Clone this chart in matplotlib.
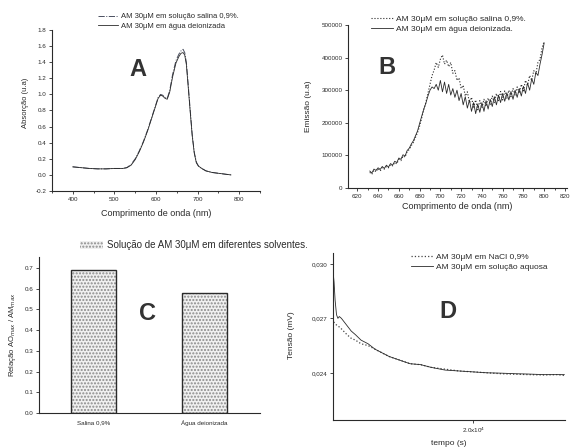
import numpy as np
import matplotlib
matplotlib.use("Agg")
import matplotlib.pyplot as plt

plt.rcParams['font.family'] = ['Liberation Sans', 'DejaVu Sans']
plt.rcParams['axes.linewidth'] = 0.8

INK = '#2a2a2a'

# --- A: absorption spectra
wl_a = [400, 420, 440, 460, 480, 500, 520, 530, 540, 550, 560, 570, 580, 590,
        600, 605, 611, 616, 622, 627, 633, 640, 648, 655, 660, 665, 669, 673,
        677, 682, 687, 692, 697, 702, 710, 720, 735, 750, 765, 780]
abs_salina = [0.10, 0.09, 0.08, 0.075, 0.075, 0.08, 0.08, 0.09, 0.13, 0.20,
              0.30, 0.42, 0.56, 0.72, 0.88, 0.96, 1.00, 0.99, 0.96, 0.95,
              1.05, 1.25, 1.42, 1.50, 1.54, 1.56, 1.52, 1.40, 1.15, 0.82,
              0.50, 0.28, 0.16, 0.11, 0.08, 0.05, 0.03, 0.02, 0.01, 0.0]
abs_agua = [0.10, 0.09, 0.08, 0.075, 0.075, 0.08, 0.08, 0.09, 0.12, 0.19,
            0.29, 0.41, 0.55, 0.71, 0.87, 0.95, 0.99, 0.98, 0.95, 0.94,
            1.03, 1.22, 1.39, 1.47, 1.51, 1.52, 1.49, 1.37, 1.12, 0.80,
            0.49, 0.27, 0.15, 0.11, 0.08, 0.05, 0.03, 0.02, 0.01, 0.0]

# --- B: emission spectra (632..800 nm, 2 nm step)
wl_b = np.arange(632, 801, 2)
em_salina = [48000, 42000, 55000, 50000, 60000, 52000, 63000, 58000, 66000, 62000,
             72000, 68000, 78000, 74000, 88000, 84000, 98000, 95000, 112000, 118000,
             130000, 140000, 155000, 170000, 190000, 215000, 240000, 262000, 290000, 318000,
             345000, 362000, 385000, 370000, 395000, 408000, 380000, 392000, 372000, 385000,
             352000, 360000, 330000, 338000, 305000, 315000, 282000, 295000, 262000, 278000,
             248000, 270000, 240000, 268000, 245000, 272000, 250000, 276000, 255000, 282000,
             262000, 290000, 268000, 296000, 270000, 298000, 275000, 300000, 280000, 305000,
             285000, 310000, 290000, 318000, 298000, 330000, 315000, 345000, 330000, 360000,
             350000, 385000, 395000, 430000, 450000]
em_agua = [52000, 46000, 58000, 54000, 62000, 57000, 66000, 60000, 70000, 64000,
           75000, 70000, 82000, 78000, 92000, 88000, 102000, 98000, 115000, 122000,
           135000, 145000, 160000, 175000, 198000, 220000, 242000, 260000, 282000, 300000,
           310000, 305000, 318000, 300000, 330000, 295000, 325000, 290000, 318000, 285000,
           305000, 278000, 300000, 268000, 290000, 255000, 280000, 245000, 270000, 235000,
           262000, 228000, 258000, 232000, 262000, 235000, 268000, 242000, 272000, 250000,
           280000, 255000, 285000, 262000, 290000, 266000, 292000, 270000, 296000, 272000,
           300000, 278000, 305000, 282000, 312000, 290000, 322000, 300000, 335000, 318000,
           355000, 345000, 380000, 410000, 445000]

# --- C: ratio bars
solventes = ['Salina 0,9%', 'Água deionizada']
razao = [0.69, 0.58]

# --- D: voltage vs time
t_aq = [0, 150, 300, 500, 700, 900, 1200, 1600, 2000, 2600, 3200, 4000, 5000,
        6000, 7000, 8000, 9500, 11000, 12500, 14000, 16000, 18000, 20000,
        22000, 24000, 26000, 28000, 30000, 32000, 33000]
v_aq = [0.0296, 0.0290, 0.0280, 0.0272, 0.0270, 0.0271, 0.0270, 0.0268,
        0.0266, 0.0263, 0.0261, 0.0258, 0.0256, 0.0253, 0.0251, 0.0249,
        0.0247, 0.0245, 0.02445, 0.0243, 0.02415, 0.0241, 0.02405, 0.0240,
        0.02398, 0.02395, 0.02393, 0.0239, 0.0239, 0.0239]
t_nacl = [100, 300, 600, 1000, 1500, 2000, 2600, 3200, 4000, 5000, 6000, 7000,
          8000, 9500, 11000, 12500, 14000, 16000, 18000, 20000, 22000, 24000,
          26000, 28000, 30000, 32000, 33000]
v_nacl = [0.0268, 0.0267, 0.0266, 0.0265, 0.0263, 0.0261, 0.0259, 0.0258,
          0.0256, 0.0255, 0.0253, 0.0251, 0.0249, 0.0247, 0.0245, 0.02445,
          0.0243, 0.0242, 0.0241, 0.02405, 0.0240, 0.02395, 0.02392, 0.0239,
          0.02388, 0.0239, 0.02385]

W, H = 572, 447


def axes_px(left, right, top, bottom):
    return fig.add_axes([left / W, 1 - bottom / H, (right - left) / W, (bottom - top) / H])


def style(ax):
    for s in ('top', 'right'):
        ax.spines[s].set_visible(False)
    for s in ('left', 'bottom'):
        ax.spines[s].set_color(INK)
    ax.tick_params(direction='out', length=2.5, width=0.6, labelsize=4.5,
                   colors=INK, pad=1.5)
    ax.tick_params(which='minor', length=1.5, width=0.5)


def leg(ax, x, y, size=6):
    ax.legend(loc='upper left', bbox_to_anchor=(x / W, 1 - y / H),
              bbox_transform=fig.transFigure, frameon=False, fontsize=size,
              borderpad=0, borderaxespad=0, handlelength=2.6,
              handletextpad=0.4, labelspacing=0.25, labelcolor=INK)


def letter(x, y, s):
    fig.text(x / W, 1 - y / H, s, fontsize=17, fontweight='bold',
             ha='center', va='center', color='#333333')


fig = plt.figure(figsize=(5.72, 4.47), dpi=100)

# A
ax = axes_px(52, 260, 30, 191)
ax.plot(wl_a, abs_salina, '-.', color='#4a4f60', lw=0.7, label='AM 30μM em solução salina 0,9%.')
ax.plot(wl_a, abs_agua, '-', color=INK, lw=0.6, label='AM 30μM em água deionizada')
ax.set_xlim(350, 850)
ax.set_ylim(-0.2, 1.8)
ax.set_xticks([400, 500, 600, 700, 800])
ax.set_xticks(np.arange(350, 851, 50), minor=True)
ax.set_yticks(np.arange(-0.2, 1.81, 0.2))
ax.set_yticklabels([f'{v:.1f}' for v in np.arange(-0.2, 1.81, 0.2)])
style(ax)
ax.set_ylabel('Absorção (u.a)', fontsize=5.5, color=INK)
ax.yaxis.set_label_coords(-0.11, 0.55)
ax.set_xlabel('Comprimento de onda (nm)', fontsize=6.5, color=INK)
ax.xaxis.set_label_coords(0.5, -0.11)
leg(ax, 98, 13, size=5.5)
letter(138, 70, 'A')

# B
ax = axes_px(348, 567, 25, 188)
ax.plot(wl_b, em_salina, ':', color=INK, lw=0.8, label='AM 30μM em solução salina 0,9%.')
ax.plot(wl_b, em_agua, '-', color=INK, lw=0.6, label='AM 30μM em água deionizada.')
ax.set_xlim(611, 822)
ax.set_ylim(0, 500000)
ax.set_xticks(np.arange(620, 821, 20))
ax.set_xticks(np.arange(620, 821, 10), minor=True)
ax.set_yticks(np.arange(0, 500001, 100000))
ax.set_yticklabels(['0', '100000', '200000', '300000', '400000', '500000'])
style(ax)
ax.set_ylabel('Emissão (u.a)', fontsize=6, color=INK)
ax.yaxis.set_label_coords(-0.165, 0.5)
ax.set_xlabel('Comprimento de onda (nm)', fontsize=6.5, color=INK)
ax.xaxis.set_label_coords(0.5, -0.085)
leg(ax, 371, 15)
letter(387, 68, 'B')

# C
ax = axes_px(39, 260, 257, 413)
pos = np.arange(len(solventes))
ax.bar(pos, razao, width=0.41, color='#f0f0f0', edgecolor='#8a8a8a', hatch='.....', lw=0,
       label='Solução de AM 30μM em diferentes solventes.')
ax.bar(pos, razao, width=0.41, fill=False, edgecolor=INK, lw=1.0)
ax.set_xlim(-0.49, 1.5)
ax.set_ylim(0, 0.753)
ax.set_xticks(pos)
ax.set_xticklabels(solventes)
ax.set_yticks(np.arange(0, 0.71, 0.1))
ax.set_yticklabels([f'{v:.1f}' for v in np.arange(0, 0.71, 0.1)])
style(ax)
ax.tick_params(axis='x', length=0, pad=5)
ax.set_ylabel('Relação AO$_{max}$ / AM$_{max}$', fontsize=5.5, color=INK)
ax.yaxis.set_label_coords(-0.095, 0.5)
ax.legend(loc='upper left', bbox_to_anchor=(80 / W, 1 - 240 / H),
          bbox_transform=fig.transFigure, frameon=False, fontsize=7,
          borderpad=0, borderaxespad=0, handlelength=2.4, handleheight=0.9,
          handletextpad=0.4, labelcolor=INK)
letter(147, 313, 'C')

# D
ax = axes_px(333, 565, 253, 420)
ax.plot(t_nacl, v_nacl, ':', color='#444', lw=0.9, label='AM 30μM em NaCl 0,9%')
ax.plot(t_aq, v_aq, '-', color=INK, lw=0.6, label='AM 30μM em solução aquosa')
ax.set_xlim(0, 33100)
ax.set_ylim(0.0214, 0.0306)
ax.set_xticks([20000])
ax.set_xticklabels(['2.0x10$^4$'])
ax.set_yticks([0.024, 0.027, 0.030])
ax.set_yticklabels(['0,024', '0,027', '0,030'])
style(ax)
ax.set_ylabel('Tensão (mV)', fontsize=6, color=INK)
ax.yaxis.set_label_coords(-0.165, 0.51)
ax.set_xlabel('tempo (s)', fontsize=6, color=INK)
ax.xaxis.set_label_coords(0.5, -0.12)
leg(ax, 411, 253)
letter(448, 312, 'D')

fig.savefig('out.png', dpi=100)
